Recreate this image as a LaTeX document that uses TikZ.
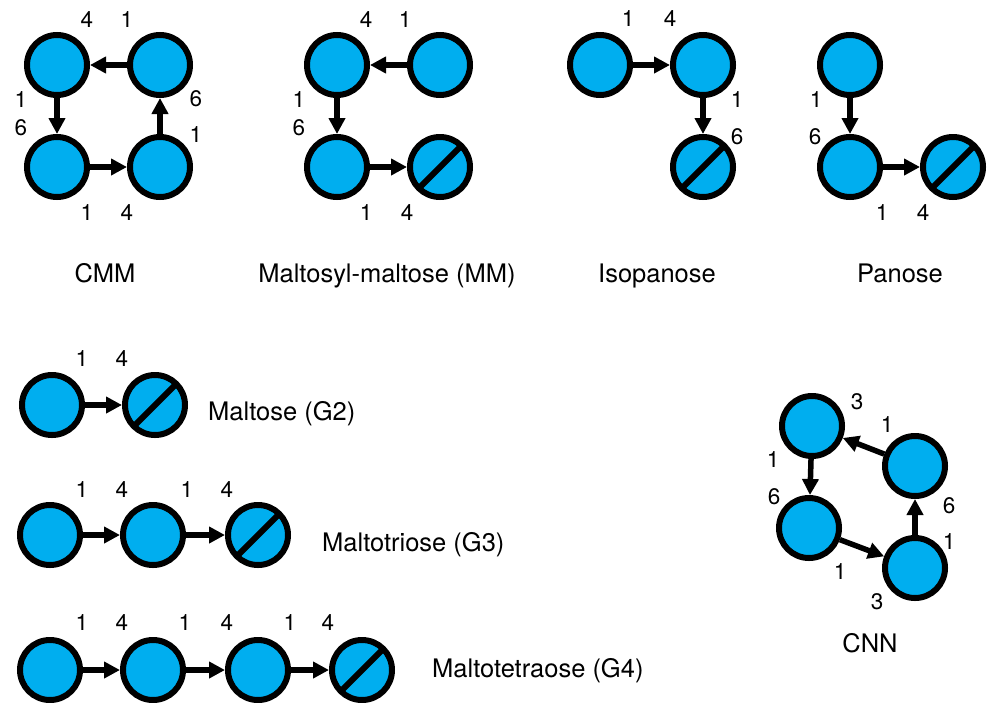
\documentclass[tikz,border=0pt]{standalone}
\usepackage{fontspec}
\setmainfont{TeX Gyre Heros}
\usetikzlibrary{arrows.meta}
\definecolor{glcblue}{RGB}{0,174,239}
\begin{document}
\begin{tikzpicture}[x=1pt,y=-1pt,
  glc/.style={circle,draw=black,fill=glcblue,line width=6pt,minimum size=60pt,inner sep=0pt},
  redend/.style={glc,path picture={\draw[line width=6pt] (path picture bounding box.south west) -- (path picture bounding box.north east);}},
  lnk/.style={line width=5.5pt,-{Triangle[length=16pt,width=16pt]}},
  num/.style={font=\fontsize{22.5}{22.5}\selectfont,inner sep=0pt},
  ttl/.style={font=\fontsize{25.5}{25.5}\selectfont,inner sep=0pt}]
\useasboundingbox (0,0) rectangle (995,702);

% ---- CMM ----
\node[glc] (c1) at (57,65) {};
\node[glc] (c2) at (160,65) {};
\node[glc] (c3) at (57,167) {};
\node[glc] (c4) at (160,167) {};
\draw[lnk] (c2) -- (c1);
\draw[lnk] (c1) -- (c3);
\draw[lnk] (c3) -- (c4);
\draw[lnk] (c4) -- (c2);
\node[num] (c-a) at (87,20) {4};
\node[num] (c-b) at (127,20) {1};
\node[num] (c-c) at (21,100) {1};
\node[num] (c-d) at (21,128) {6};
\node[num] (c-e) at (196,99) {6};
\node[num] (c-f) at (196,135) {1};
\node[num] (c-g) at (87,213) {1};
\node[num] (c-h) at (127,213) {4};
\node[ttl,anchor=base] (cmm) at (105,282) {CMM};

% ---- MM ----
\node[glc] (m1) at (337,65) {};
\node[glc] (m2) at (440,65) {};
\node[glc] (m3) at (337,167) {};
\node[redend] (m4) at (440,167) {};
\draw[lnk] (m2) -- (m1);
\draw[lnk] (m1) -- (m3);
\draw[lnk] (m3) -- (m4);
\node[num] (m-a) at (366,20) {4};
\node[num] (m-b) at (405,20) {1};
\node[num] (m-c) at (299,100) {1};
\node[num] (m-d) at (299,128) {6};
\node[num] (m-e) at (366,213) {1};
\node[num] (m-f) at (407,213) {4};
\node[ttl,anchor=base] (mm) at (387,282) {Maltosyl-maltose (MM)};

% ---- Isopanose ----
\node[glc] (i1) at (600,65) {};
\node[glc] (i2) at (703,65) {};
\node[redend] (i3) at (703,167) {};
\draw[lnk] (i1) -- (i2);
\draw[lnk] (i2) -- (i3);
\node[num] (i-a) at (628,19) {1};
\node[num] (i-b) at (670,19) {4};
\node[num] (i-c) at (737,100) {1};
\node[num] (i-d) at (737,137) {6};
\node[ttl,anchor=base] (iso) at (657,282) {Isopanose};

% ---- Panose ----
\node[glc] (p1) at (850,65) {};
\node[glc] (p2) at (850,167) {};
\node[redend] (p3) at (953,167) {};
\draw[lnk] (p1) -- (p2);
\draw[lnk] (p2) -- (p3);
\node[num] (p-a) at (816,100) {1};
\node[num] (p-b) at (815,137) {6};
\node[num] (p-c) at (882,213) {1};
\node[num] (p-d) at (923,213) {4};
\node[ttl,anchor=base] (pan) at (900,282) {Panose};

% ---- Maltose ----
\node[glc] (g21) at (52,405) {};
\node[redend] (g22) at (155,405) {};
\draw[lnk] (g21) -- (g22);
\node[num] (g2-a) at (82,359) {1};
\node[num] (g2-b) at (122,359) {4};
\node[ttl,anchor=base west] (g2) at (208,420) {Maltose (G2)};

% ---- Maltotriose ----
\node[glc] (g31) at (50,535) {};
\node[glc] (g32) at (153,535) {};
\node[redend] (g33) at (258,535) {};
\draw[lnk] (g31) -- (g32);
\draw[lnk] (g32) -- (g33);
\node[num] (g3-a) at (82,490) {1};
\node[num] (g3-b) at (122,490) {4};
\node[num] (g3-c) at (187,490) {1};
\node[num] (g3-d) at (227,490) {4};
\node[ttl,anchor=base west] (g3) at (322,551) {Maltotriose (G3)};

% ---- Maltotetraose ----
\node[glc] (g41) at (50,670) {};
\node[glc] (g42) at (153,670) {};
\node[glc] (g43) at (258,670) {};
\node[redend] (g44) at (362,670) {};
\draw[lnk] (g41) -- (g42);
\draw[lnk] (g42) -- (g43);
\draw[lnk] (g43) -- (g44);
\node[num] (g4-a) at (82,623) {1};
\node[num] (g4-b) at (122,623) {4};
\node[num] (g4-c) at (185,623) {1};
\node[num] (g4-d) at (227,623) {4};
\node[num] (g4-e) at (290,623) {1};
\node[num] (g4-f) at (328,623) {4};
\node[ttl,anchor=base west] (g4) at (432,677) {Maltotetraose (G4)};

% ---- CNN ----
\node[glc] (n1) at (812,426) {};
\node[glc] (n2) at (915,466) {};
\node[glc] (n3) at (809,528) {};
\node[glc] (n4) at (915,568) {};
\draw[lnk] (n2) -- (n1);
\draw[lnk] (n1) -- (n3);
\draw[lnk] (n3) -- (n4);
\draw[lnk] (n4) -- (n2);
\node[num] (n-a) at (857,402) {3};
\node[num] (n-b) at (887,425) {1};
\node[num] (n-c) at (773,460) {1};
\node[num] (n-d) at (774,497) {6};
\node[num] (n-e) at (949,506) {6};
\node[num] (n-f) at (949,542) {1};
\node[num] (n-g) at (840,572) {1};
\node[num] (n-h) at (877,602) {3};
\node[ttl,anchor=base] (cnn) at (870,652) {CNN};
\end{tikzpicture}
\end{document}
